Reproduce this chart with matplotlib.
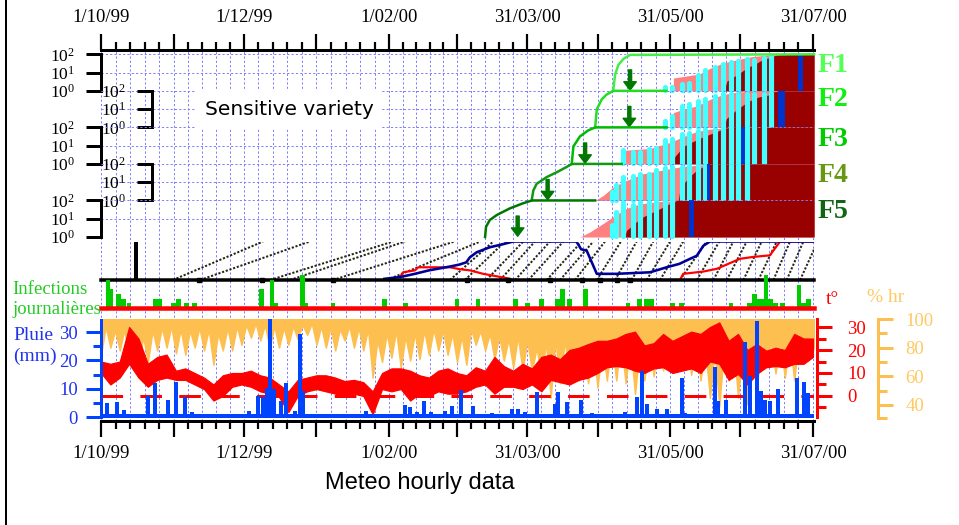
import matplotlib

matplotlib.use('Agg')  # no display
import matplotlib.pyplot as plt
import numpy as np
from matplotlib.lines import Line2D
from matplotlib.ticker import FixedLocator, FixedFormatter

W, H, DPI = 959, 525, 100
PX = 72.0 / DPI  # points per pixel

plt.rcParams['font.family'] = ['Liberation Serif', 'DejaVu Serif']
plt.rcParams['mathtext.fontset'] = 'custom'
plt.rcParams['mathtext.rm'] = 'Liberation Serif'
plt.rcParams['mathtext.it'] = 'Liberation Serif:italic'

# ---------------- data (days counted from 1/10/99) ----------------
month_days = [0, 31, 61, 92, 123, 152, 182, 212, 243, 273, 304]
label_days = [0, 61, 123, 182, 243, 304]
date_labels = ['1/10/99', '1/12/99', '1/02/00', '31/03/00', '31/05/00', '31/07/00']

leaf_names = ['F1', 'F2', 'F3', 'F4', 'F5']
leaf_colors = ['#55ff55', '#11ee11', '#00cc00', '#669911', '#116611']
curve_colors = ['#44ee44', '#22dd22', '#00bb00', '#119911', '#007700']

# leaf growth (% of final area)
growth_days = [
    [218.7, 219.5, 220.9, 223.0, 225.9, 304.5],
    [211.0, 211.7, 213.8, 215.9, 218.7, 241.5],
    [201.0, 201.7, 204.5, 208.0, 211.0, 241.5],
    [183.9, 184.6, 186.0, 190.3, 194.6, 198.8, 201.0, 222.3],
    [164.0, 164.4, 166.0, 169.0, 174.6, 180.2, 184.0, 211.0],
]
growth_pct = [
    [1, 7.6, 26, 55, 93, 100],
    [1, 9.8, 34, 63, 100, 100],
    [1, 9, 32, 68, 100, 100],
    [1, 3.5, 8.1, 19, 35, 68, 100, 100],
    [1, 3.6, 8.5, 16, 37, 70, 100, 100],
]
arrow_days = [225.9, 225.6, 206.7, 190.7, 177.9]

# simulated disease (pink = total, dark red = sporulating)
pink_days = [
    [244.4, 255.8, 260.0, 265.6, 271.5, 278.4, 285.7, 294.2, 304.5],
    [244.4, 248.6, 254.4, 260.0, 265.7, 271.4, 277.1, 304.5],
    [223.0, 234.4, 243.0, 248.6, 254.4, 260.0, 265.7, 271.4, 304.5],
    [211.0, 214.5, 218.7, 224.4, 231.5, 237.3, 243.0, 248.6, 257.2, 304.5],
    [204.5, 208.8, 214.5, 218.7, 224.4, 230.1, 237.3, 245.8, 304.5],
]
pink_vals = [
    [5.0, 8.5, 17, 33, 50, 76, 93, 100, 100],
    [6.4, 9.8, 14.8, 34, 63, 85, 95, 100],
    [5.5, 7, 15, 31, 59, 80, 92, 100, 100],
    [1, 1.9, 5.4, 12.5, 29, 40, 55, 73, 90, 100],
    [1, 1.9, 5.6, 13, 37, 64, 85, 100, 100],
]
red_days = [
    [266.0, 267.3, 272.8, 275.8, 280.1, 282.6, 286.4, 288.2, 295.4, 304.5],
    [266.0, 267.0, 271.0, 276.0, 280.5, 285.3, 287.3, 291.0, 304.5],
    [244.0, 245.0, 248.6, 252.0, 257.2, 262.9, 267.0, 270.0, 304.5],
    [246.5, 247.2, 248.6, 251.5, 254.4, 257.2, 260.0, 304.5],
    [223.5, 224.4, 228.7, 231.6, 235.9, 240.1, 243.0, 245.8, 304.5],
]
red_vals = [
    [1, 3.5, 9.7, 18, 34, 52, 71, 91, 100, 100],
    [1, 3, 8.5, 25, 45, 60, 90, 100, 100],
    [1, 2.5, 9, 15, 31, 59, 95, 100, 100],
    [1, 4, 8, 22, 45, 72, 100, 100],
    [1, 2.3, 6.9, 13, 24, 44, 69, 100, 100],
]

# observed severity (cyan bars)
obs_days = [218, 220, 223, 227, 230, 234, 237, 241, 244, 248, 251, 255, 258,
            262, 265.5, 269, 272, 276, 279, 283, 286]
nan = np.nan
obs_vals = [
    [nan] * 7 + [1.6, 1.6, 2.4, 2.7, 7, 14, 19, 28, 40, 44, 53, 50, 60, 71],
    [nan] * 7 + [2.2, 4.2, 14.7, 18, 28, 37, 52, 64, 70, 70, 70, 70, 70, 80],
    [nan] * 2 + [5.9, 4.7, 4.7, 6.4, 7.2, 21, 23, 43, 52, 65, 73, 76, 90, 90,
                 90, 90, 90, 90] + [nan],
    [2.8, 6.6, 19, 23, 27, 29, 48, 62, 67, 70, 75, 78, 80, 82, 85, 88, 90, 92]
    + [nan] * 3,
    [4.5, 22, 69, 55, 69, 85, 88, 92, 95] + [nan] * 12,
]
# leaf senescence (blue bars)
senes_days = [298.7, 290.5, 274.0, 259.5, 252.0]
senes_width = [2.1, 2.9, 1.8, 1.2, 2.1]

# incubation / sporulation progress band (0-100 %)
incub_lines = [(30.7, 69.2), (42.3, 89.2), (72.2, 124.7), (80.7, 129.8),
               (99, 151), (122, 162), (149, 167.5), (155.4, 172.5),
               (164.6, 180.3), (170.4, 185.3), (176.8, 191.7), (182.5, 197.4),
               (190.3, 205.3), (196, 210.2), (202.4, 215.2), (211.7, 222),
               (219.5, 228.7), (226.6, 235.8), (233, 243), (238.7, 248.6),
               (247.2, 258.6), (254.4, 264), (261.5, 270), (267.2, 275.7),
               (274.3, 282.1), (280.7, 288.5), (287.1, 294.2), (292.8, 299.9),
               (298.5, 306)]
blue_days = [121, 128, 134, 140, 149, 153, 156, 157.5, 160.4, 166, 171.6, 176,
             203, 205, 207.4, 211.7, 220, 234.4, 241.5, 247, 251.5, 254.4,
             257.2, 260, 304.5]
blue_vals = [3, 8, 16, 25, 35, 40, 46, 59, 72, 85, 93, 100, 100, 80, 76, 16,
             16, 20, 33, 42, 55, 63, 89, 100, 100]
redl_days = [127.7, 129, 134, 135.5, 139, 149, 153.3, 157.6, 163.2, 170.4,
             174.6, 176, 247.2, 248.6, 257.2, 262.9, 272.8, 278.5, 285.6,
             288.5, 290, 304.5]
redl_vals = [8, 20, 25, 33, 33, 33, 28, 25, 16, 8, 3, 0, 0, 16, 22, 29, 55,
             60, 64, 88, 100, 100]
square_days = [41.8, 68.7, 99, 156.3, 173.8, 191.7, 205.4, 213.1, 220.3, 225.9]
spore_bar_day = 14.9

# daily infections
inf_days = [3, 4.3, 7.5, 9.5, 12, 23, 25, 31, 33, 36.5, 40, 68.5, 73, 74.5, 86,
            87.5, 99, 121, 130, 152, 161, 177, 182, 188, 195, 197, 200, 207,
            225, 230, 233, 235, 244, 248, 269, 277, 279, 281, 282.5, 284, 286,
            288, 291, 298, 300, 302]
inf_vals = [6, 4, 3, 2, 1, 2, 2, 1, 2, 1, 1, 4, 6, 1, 7, 1, 1, 2, 1, 2, 2, 2,
            1, 2, 2, 4, 2, 4, 1, 2, 2, 2, 1, 1, 1, 1, 3, 2, 2, 7, 2, 1, 1, 5,
            1, 2]

# meteo, read every 4 days
meteo_days = list(range(0, 305, 4))
t_min = [10, 5, 8, 14, 8, 4, 7, 8, 7, 7,
         5, 3, -2, 0, 4, 5, 4, 2, 1, -0.5,
         -7, 0, 2, 3, 2, 1, 0, 1, 0, -8,
         3, 2, 3, -2, 1, 0, 2, 1, 1, 2,
         4, 5, 1, 4, 4, 3, 5, 2, 7, 6,
         5, 7, 8, 10, 12.5, 13, 12.5, 11, 10, 12,
         12.5, 10, 11, 12, 10, 15, 14, 7, 9.6, 5,
         9.6, 12.5, 13, 12.5, 14, 14, 17]
t_max = [15, 14, 15, 30, 25, 14, 17, 18, 11, 12,
         10, 8, 5, 9, 10, 10, 11, 9, 8, 5,
         2, 7, 8, 9, 9, 8, 6.5, 7, 6, 2,
         10, 12, 12, 11, 9, 8, 11, 12, 10, 9,
         12.5, 11, 17, 13, 11, 14, 12, 17, 18, 16,
         20, 21, 22.6, 24, 24, 25, 27, 28, 22, 23,
         27, 24, 26, 28, 27, 30, 32, 24, 27, 20,
         22.6, 19.7, 21, 20, 27, 25, 25]
hr_min = [75, 80, 78, 70, 64, 70, 78, 80, 76, 75,
          80, 78, 68, 78, 78, 82, 87, 85, 80, 80,
          82, 86, 89, 82, 80, 78, 85, 80, 78, 59,
          70, 73, 66, 71, 72, 75, 78, 75, 70, 68,
          82, 78, 72, 71, 66, 64, 64, 59, 45, 55,
          61, 57, 55, 52, 57, 57, 55, 47.5, 57, 60,
          64, 66, 64, 61, 57, 45, 39, 57, 45, 40.5,
          50, 68.5, 62, 59, 57, 70, 78]
hr_max = [95, 92, 93, 90, 88, 92, 94, 95, 93, 92,
          94, 93, 90, 94, 95, 96, 97, 96, 95, 94,
          95, 96, 97, 95, 94, 93, 95, 94, 93, 85,
          90, 92, 88, 90, 92, 93, 92, 90, 88, 93,
          92, 90, 88, 86, 88, 85, 80, 84, 86, 85,
          84, 82, 84, 82, 85, 86, 84, 80, 85, 86,
          88, 88, 86, 84, 80, 78, 80, 85, 80, 82,
          86, 84, 85, 86, 88, 90, 94]
rain_days = [0, 2.7, 6.7, 10, 20.2, 23, 28.7, 32, 36, 39, 63, 67, 69, 70.7,
             72.1, 74, 77, 79, 83, 85, 86.3, 113, 118, 130, 132, 135, 138, 141,
             147, 150, 153.8, 159, 167, 175.4, 178.2, 181, 186, 193.9, 195,
             198.9, 205, 209.5, 223.7, 229, 231, 233, 237.2, 241.5, 248.2,
             249.3, 262.2, 263.5, 267, 275, 277.1, 280, 281.8, 283.5, 285.5,
             289.2, 297, 300.3, 302]
rain_mm = [14, 4.8, 5.2, 2.5, 7.5, 11.9, 6, 12.2, 7, 1.6, 2, 7.5, 7, 10.2, 35,
           9.9, 5.5, 11.9, 2.2, 29.3, 9.3, 2.2, 1, 4.4, 3.4, 1.6, 5.5, 1.6,
           2.2, 4, 9.5, 4, 1.3, 3, 2.8, 1.6, 8.7, 4.6, 9, 5.4, 6, 1.3, 1.6,
           7.2, 16.4, 4.6, 2.8, 2.8, 13.8, 1.3, 17.5, 5.8, 6, 26.4, 14.6, 33.8,
           9.3, 6, 5.5, 9.9, 13.8, 12.5, 8.4]

# ---------------- layout helpers ----------------
X0 = 101
XMAX = 304.5
X1 = X0 + 2.342 * XMAX
PANEL_TOP, PANEL_H = 54.3, 36.54
GRID_KW = dict(color='#7f7fff', lw=1.0 * PX, dashes=(3 * PX, 3 * PX))


def rect(y0, y1, x0=X0, x1=X1):
    return [x0 / W, 1 - y1 / H, (x1 - x0) / W, (y1 - y0) / H]


def fy(y):
    return 1 - y / H


def zigzag(days, first, second):
    # low value at d, high value at d + 2
    xs = np.ravel(np.column_stack([days, np.asarray(days) + 2]))
    ys = np.ravel(np.column_stack([first, second]))
    return xs, ys


fig = plt.figure(figsize=(W / DPI, H / DPI), dpi=DPI)
fig.add_artist(Line2D([6 / W, 6 / W], [0, 1], color='black', lw=2 * PX))

# ---------------- background date axis + vertical grid ----------------
ax_bg = fig.add_axes(rect(50, 421), zorder=0)
ax_bg.set_xlim(0, XMAX)
ax_bg.set_ylim(0, 1)
minor = np.concatenate([np.linspace(a, b, 6)[1:-1]
                        for a, b in zip(month_days[:-1], month_days[1:])])
ax_bg.xaxis.set_major_locator(FixedLocator(month_days))
ax_bg.xaxis.set_minor_locator(FixedLocator(minor))
ax_bg.xaxis.set_major_formatter(FixedFormatter(
    [date_labels[label_days.index(d)] if d in label_days else '' for d in month_days]))
ax_bg.set_yticks([])
for s in ['left', 'right']:
    ax_bg.spines[s].set_visible(False)
for s in ['top', 'bottom']:
    ax_bg.spines[s].set_linewidth(3 * PX)
ax_bg.tick_params(axis='x', which='both', top=True, bottom=True, labeltop=True,
                  labelbottom=True, direction='out', width=2.2 * PX,
                  labelsize=13.5, pad=6)
ax_bg.tick_params(axis='x', which='major', length=16 * PX)
ax_bg.tick_params(axis='x', which='minor', length=8 * PX)
for d in list(month_days) + list(minor):
    ax_bg.axvline(d, **GRID_KW)

# ---------------- leaf panels ----------------
for i in range(5):
    top = PANEL_TOP + i * PANEL_H
    ax = fig.add_axes(rect(top, top + PANEL_H), zorder=2)
    ax.patch.set_visible(False)
    ax.set_xlim(0, XMAX)
    ax.set_yscale('log')
    ax.set_ylim(1, 100)
    for d in [1, 10, 100]:
        ax.axhline(d, zorder=0, **GRID_KW)
    ax.fill_between(pink_days[i], 1, pink_vals[i], color='#ff8080', lw=0, zorder=2)
    ax.fill_between(red_days[i], 1, red_vals[i], color='#990000', lw=0, zorder=3)
    od = [d for d, v in zip(obs_days, obs_vals[i]) if not np.isnan(v)]
    ov = [v for v in obs_vals[i] if not np.isnan(v)]
    ax.vlines(od, 1.1, ov, color='#44ffff', lw=5.2 * PX, capstyle='round',
              zorder=4, clip_on=False)
    ax.bar(senes_days[i], 99, bottom=1, width=senes_width[i], color='#0033cc',
           zorder=5)
    ax.plot(growth_days[i], growth_pct[i], color=curve_colors[i], lw=2.5 * PX,
            zorder=6, clip_on=False)
    ax.annotate('', xy=(arrow_days[i], 1.1), xytext=(arrow_days[i], 14),
                arrowprops=dict(arrowstyle='simple,head_length=0.6,head_width=0.9,tail_width=0.22',
                                color='#007700', shrinkA=0, shrinkB=0,
                                mutation_scale=10), zorder=7)
    # bracket axis
    for s in ['top', 'bottom', 'right']:
        ax.spines[s].set_visible(False)
    ax.spines['left'].set_linewidth(3 * PX)
    if i % 2 == 1:
        ax.spines['left'].set_position(('data', 21.8))
    ax.set_xticks([])
    ax.yaxis.set_major_locator(FixedLocator([1, 10, 100]))
    ax.yaxis.set_major_formatter(FixedFormatter(['$10^{0}$', '$10^{1}$', '$10^{2}$']))
    ax.yaxis.set_minor_locator(FixedLocator([]))
    ax.tick_params(axis='y', which='major', length=15 * PX, width=3 * PX,
                   labelsize=12.5, pad=8)
    fig.text(818 / W, fy([65, 99, 140, 176, 211][i]), leaf_names[i],
             color=leaf_colors[i], fontsize=20, fontweight='bold',
             ha='left', va='center')

fig.text(289 / W, fy(109.5), 'Sensitive variety', family='DejaVu Sans',
         fontsize=14.5, ha='center', va='center', zorder=10,
         bbox=dict(boxstyle='square,pad=0.45', fc='white', ec='none'))

# ---------------- incubation band ----------------
ax_mid = fig.add_axes(rect(241.5, 280), zorder=2)
ax_mid.patch.set_visible(False)
ax_mid.set_xlim(0, XMAX)
ax_mid.set_ylim(0, 100)
ax_mid.axis('off')
for s, e in incub_lines:
    ax_mid.plot([s, e], [0, 100], color='#262614', lw=2.0 * PX,
                dashes=(1.5 * PX, 1.2 * PX))
ax_mid.plot(redl_days, redl_vals, color='#ff0000', lw=2.2 * PX)
ax_mid.plot(blue_days, blue_vals, color='#000099', lw=2.6 * PX)
ax_mid.bar(spore_bar_day, 98, width=1.7, color='black')
ax_mid.axhline(0, color='black', lw=3.5 * PX, clip_on=False)
ax_mid.plot(square_days, [0] * len(square_days), 's', color='black',
            ms=5 * PX, clip_on=False)

# ---------------- daily infections ----------------
ax_inf = fig.add_axes(rect(280, 308), zorder=2)
ax_inf.patch.set_visible(False)
ax_inf.set_xlim(0, XMAX)
ax_inf.set_ylim(0, 6)
ax_inf.axis('off')
ax_inf.bar(inf_days, inf_vals, width=2.0, color='#00cc00', clip_on=False)
ax_inf.axhline(0, color='#ff0000', lw=4.5 * PX, clip_on=False)
fig.text(12 / W, fy(289), 'Infections', color='#22cc22', fontsize=13.5,
         ha='left', va='center')
fig.text(12 / W, fy(309), 'journalières', color='#22cc22', fontsize=13.5,
         ha='left', va='center')

# ---------------- meteo ----------------
meteo_rect = rect(319, 421)
ax_hr = fig.add_axes(meteo_rect, zorder=2)
ax_t = fig.add_axes(meteo_rect, zorder=3)
ax_rain = fig.add_axes(meteo_rect, zorder=4)
for a in (ax_hr, ax_t, ax_rain):
    a.patch.set_visible(False)
    a.set_xlim(0, XMAX)
    a.set_xticks([])
    for s in a.spines.values():
        s.set_visible(False)

orange = '#fdbf4f'
hx, hy = zigzag(meteo_days, hr_min, hr_max)
ax_hr.set_ylim(28.7, 100)
ax_hr.fill_between(hx, hy, 100, color=orange, lw=1.5 * PX, edgecolor=orange)
ax_hr.spines['right'].set_visible(True)
ax_hr.spines['right'].set_position(('axes', (878 - X0) / (X1 - X0)))
ax_hr.spines['right'].set_bounds(30.5, 100)
ax_hr.spines['right'].set_color(orange)
ax_hr.spines['right'].set_linewidth(3 * PX)
ax_hr.yaxis.set_ticks_position('right')
ax_hr.yaxis.set_major_locator(FixedLocator([40, 60, 80, 100]))
ax_hr.yaxis.set_minor_locator(FixedLocator([30.5, 50, 70, 90]))
ax_hr.tick_params(axis='y', which='both', colors=orange, width=3 * PX,
                  labelcolor='#ffc860', labelsize=13.5, pad=9)
ax_hr.tick_params(axis='y', which='major', length=15 * PX)
ax_hr.tick_params(axis='y', which='minor', length=9 * PX)

ax_t.set_ylim(-10.9, 33.5)
ax_t.axhline(0, color='#ff0000', lw=3 * PX, dashes=(10 * PX, 8 * PX))
ax_t.fill_between(meteo_days, t_min, t_max, color='#ff0000', lw=1.2 * PX)
ax_t.spines['right'].set_visible(True)
ax_t.spines['right'].set_position(('axes', (817 - X0) / (X1 - X0)))
ax_t.spines['right'].set_bounds(-9.1, 33.5)
ax_t.spines['right'].set_color('#ff0000')
ax_t.spines['right'].set_linewidth(3 * PX)
ax_t.yaxis.set_ticks_position('right')
ax_t.yaxis.set_major_locator(FixedLocator([0, 10, 20, 30]))
ax_t.yaxis.set_minor_locator(FixedLocator([-5, 5, 15, 25]))
ax_t.tick_params(axis='y', which='both', colors='#ff0000', width=3 * PX,
                 labelsize=13.5, pad=11)
ax_t.tick_params(axis='y', which='major', length=15 * PX)
ax_t.tick_params(axis='y', which='minor', length=9 * PX)

blue = '#0044ff'
ax_rain.set_ylim(-1.4, 34.6)
ax_rain.axhline(0.2, color=blue, lw=4 * PX)
ax_rain.vlines(rain_days, 0, rain_mm, color=blue, lw=4 * PX)
ax_rain.spines['left'].set_visible(True)
ax_rain.spines['left'].set_bounds(0, 34.3)
ax_rain.spines['left'].set_color(blue)
ax_rain.spines['left'].set_linewidth(3 * PX)
ax_rain.yaxis.set_major_locator(FixedLocator([0, 10, 20, 30]))
ax_rain.yaxis.set_minor_locator(FixedLocator([5, 15, 25]))
ax_rain.tick_params(axis='y', which='both', colors=blue, width=3 * PX,
                    labelcolor='#2233ee', labelsize=13.5, pad=6)
ax_rain.tick_params(axis='y', which='major', length=15 * PX)
ax_rain.tick_params(axis='y', which='minor', length=8 * PX)

fig.text(13 / W, fy(336), 'Pluie', color='#2233ee', fontsize=14, ha='left', va='center')
fig.text(13 / W, fy(356), '(mm)', color='#2233ee', fontsize=14, ha='left', va='center')
fig.text(826 / W, fy(300), 't°', color='#ff0000', fontsize=14, ha='left', va='center')
fig.text(867 / W, fy(298), '% hr', color='#ffc860', fontsize=14, ha='left', va='center')
fig.text(420 / W, fy(483), 'Meteo hourly data', family='Liberation Sans',
         fontsize=17, ha='center', va='center')

fig.savefig('out.png', dpi=DPI)
